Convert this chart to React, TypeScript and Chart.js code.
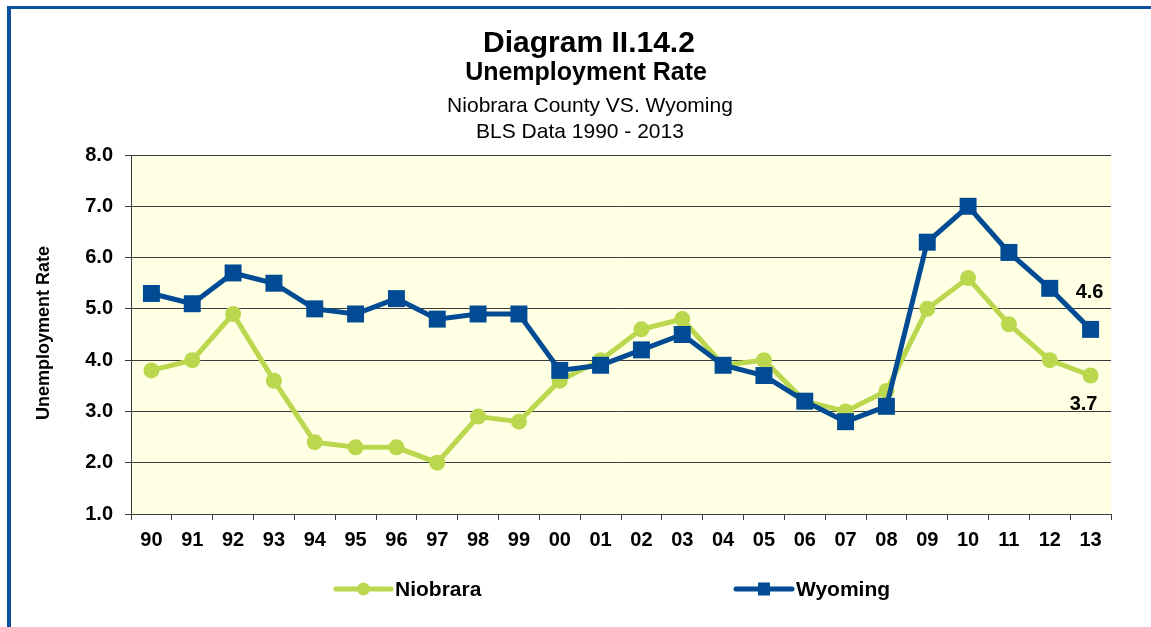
import React, { useEffect, useRef } from 'react';
import { Chart, registerables } from 'chart.js';

Chart.register(...registerables);

const categories = ['90', '91', '92', '93', '94', '95', '96', '97', '98', '99', '00', '01', '02', '03', '04', '05', '06', '07', '08', '09', '10', '11', '12', '13'];
const niobrara = [3.8, 4.0, 4.9, 3.6, 2.4, 2.3, 2.3, 2.0, 2.9, 2.8, 3.6, 4.0, 4.6, 4.8, 3.9, 4.0, 3.2, 3.0, 3.4, 5.0, 5.6, 4.7, 4.0, 3.7];
const wyoming = [5.3, 5.1, 5.7, 5.5, 5.0, 4.9, 5.2, 4.8, 4.9, 4.9, 3.8, 3.9, 4.2, 4.5, 3.9, 3.7, 3.2, 2.8, 3.1, 6.3, 7.0, 6.1, 5.4, 4.6];
const titleLines = ['Diagram II.14.2', 'Unemployment Rate', 'Niobrara County VS. Wyoming', 'BLS Data 1990 - 2013'];
const yAxisTitle = 'Unemployment Rate';
const seriesNames = ['Niobrara', 'Wyoming'];

const FONT = '"Liberation Sans", Arial, Helvetica, sans-serif';
const GREEN = '#BBD74E';
const BLUE = '#004B93';
const PLOT_BG = '#FFFFE3';
const GRID = '#3c3c3c';

const decorPlugin = {
  id: 'decor',
  beforeDraw(chart: any) {
    const { ctx, chartArea: a } = chart;
    ctx.save();
    ctx.fillStyle = '#ffffff';
    ctx.fillRect(0, 0, chart.width, chart.height);
    ctx.fillStyle = PLOT_BG;
    ctx.fillRect(a.left, a.top, a.right - a.left, a.bottom - a.top);
    ctx.fillStyle = '#0B4F9C';
    ctx.fillRect(7, 6, 4, chart.height);
    ctx.fillRect(7, 6, chart.width, 3);
    ctx.restore();
  },
  afterDraw(chart: any) {
    const { ctx } = chart;
    ctx.save();
    ctx.fillStyle = '#000';
    ctx.textAlign = 'center';
    ctx.textBaseline = 'alphabetic';
    const specs = [
      { f: `bold 30px ${FONT}`, x: 589, y: 52 },
      { f: `bold 25px ${FONT}`, x: 586, y: 80 },
      { f: `21px ${FONT}`, x: 590, y: 112 },
      { f: `21px ${FONT}`, x: 580, y: 138 },
    ];
    titleLines.forEach((t, i) => {
      ctx.font = specs[i].f;
      ctx.fillText(t, specs[i].x, specs[i].y);
    });

    // y axis title
    ctx.save();
    ctx.translate(49, 333);
    ctx.rotate(-Math.PI / 2);
    ctx.font = `bold 18px ${FONT}`;
    ctx.textAlign = 'center';
    ctx.fillText(yAxisTitle, 0, 0);
    ctx.restore();

    // legend
    const items = [
      { name: seriesNames[0], color: GREEN, x1: 336, x2: 391, style: 'circle' },
      { name: seriesNames[1], color: BLUE, x1: 736, x2: 792, style: 'rect' },
    ];
    const ly = 589;
    items.forEach((it) => {
      ctx.strokeStyle = it.color;
      ctx.lineWidth = 5;
      ctx.lineCap = 'round';
      ctx.beginPath();
      ctx.moveTo(it.x1, ly);
      ctx.lineTo(it.x2, ly);
      ctx.stroke();
      ctx.fillStyle = it.color;
      const cx = (it.x1 + it.x2) / 2;
      if (it.style === 'circle') {
        ctx.beginPath();
        ctx.arc(cx, ly, 6.5, 0, Math.PI * 2);
        ctx.fill();
      } else {
        ctx.fillRect(cx - 6, ly - 6.5, 12, 13);
      }
      ctx.fillStyle = '#000';
      ctx.font = `bold 21px ${FONT}`;
      ctx.textAlign = 'left';
      ctx.textBaseline = 'alphabetic';
      ctx.fillText(it.name, it.x2 + 4, 596);
    });

    // end-value labels
    ctx.font = `bold 20px ${FONT}`;
    ctx.textAlign = 'center';
    const metaN = chart.getDatasetMeta(0);
    const metaW = chart.getDatasetMeta(1);
    const last = categories.length - 1;
    const pW = metaW.data[last];
    const pN = metaN.data[last];
    ctx.fillText(wyoming[last].toFixed(1), pW.x - 1, pW.y - 31);
    ctx.fillText(niobrara[last].toFixed(1), pN.x - 7, pN.y + 34.5);
    ctx.restore();
  },
};

export default function App() {
  const ref = useRef<HTMLCanvasElement>(null);
  useEffect(() => {
    document.body.style.margin = '0';
    const canvas = ref.current!;
    const chart = new Chart(canvas, {
      type: 'line',
      data: {
        labels: categories,
        datasets: [
          {
            label: seriesNames[0],
            data: niobrara,
            borderColor: GREEN,
            backgroundColor: GREEN,
            borderWidth: 5,
            pointStyle: 'circle',
            pointRadius: 8,
            pointBorderWidth: 0,
            pointBackgroundColor: GREEN,
            tension: 0,
            order: 2,
          },
          {
            label: seriesNames[1],
            data: wyoming,
            borderColor: BLUE,
            backgroundColor: BLUE,
            borderWidth: 5,
            pointStyle: 'rect',
            pointRadius: 12,
            pointBorderWidth: 0,
            pointBackgroundColor: BLUE,
            tension: 0,
            order: 1,
          },
        ],
      },
      plugins: [decorPlugin],
      options: {
        animation: false,
        responsive: false,
        devicePixelRatio: 1,
        layout: { padding: { top: 155, right: 40, bottom: 0, left: 0 } },
        plugins: {
          legend: { display: false },
          title: { display: false },
          tooltip: { enabled: false },
        },
        scales: {
          x: {
            type: 'category',
            offset: true,
            grid: {
              offset: true,
              drawOnChartArea: false,
              drawTicks: true,
              tickLength: 6,
              color: GRID,
            },
            border: { display: true, color: GRID, width: 1 },
            ticks: {
              color: '#000',
              font: { family: FONT, size: 20, weight: 'bold' },
              padding: 8,
              maxRotation: 0,
              autoSkip: false,
            },
            afterFit(scale: any) {
              scale.height = 113;
            },
          },
          y: {
            min: 1,
            max: 8,
            grid: { color: GRID, tickLength: 6, lineWidth: 1 },
            border: { display: true, color: GRID, width: 1 },
            ticks: {
              stepSize: 1,
              color: '#000',
              font: { family: FONT, size: 20, weight: 'bold' },
              padding: 12,
              callback: (v: any) => Number(v).toFixed(1),
            },
            afterFit(scale: any) {
              scale.width = 131;
            },
          },
        },
      },
    });
    return () => chart.destroy();
  }, []);
  return <canvas ref={ref} width={1151} height={627} style={{ display: 'block' }} />;
}
